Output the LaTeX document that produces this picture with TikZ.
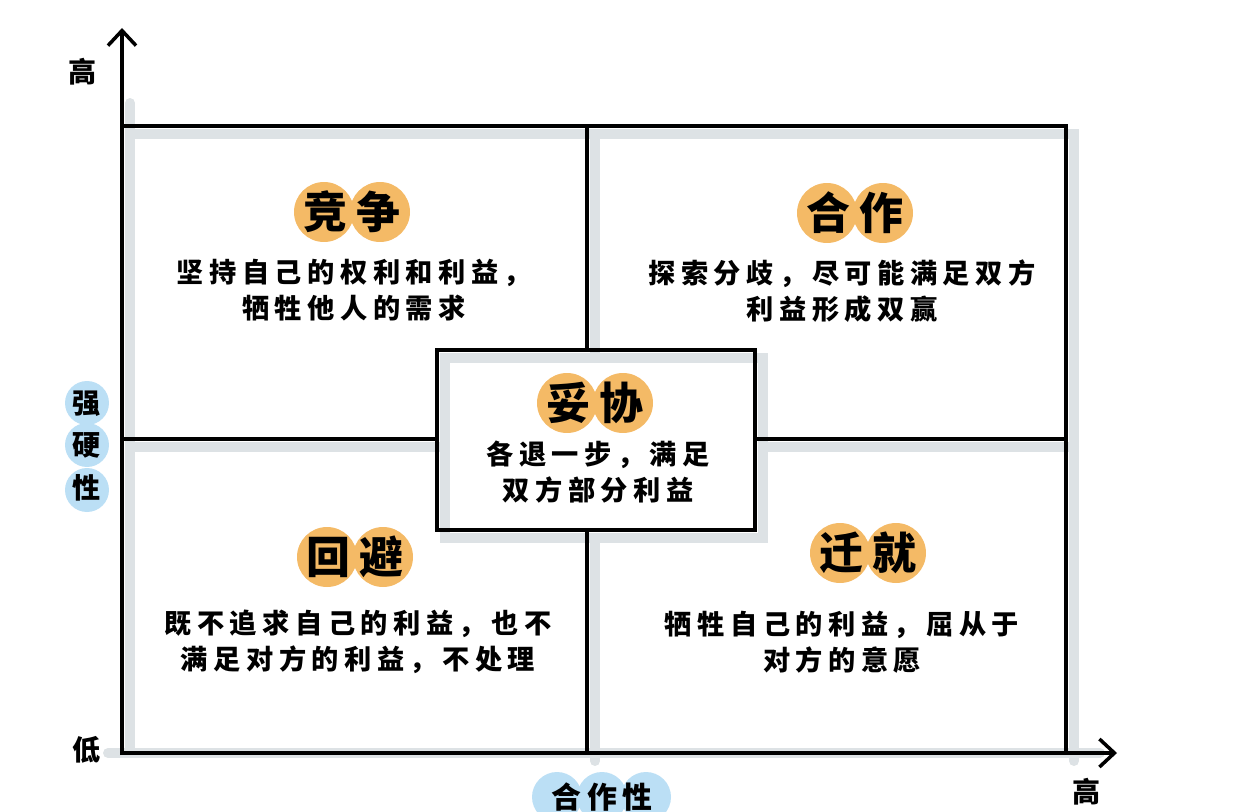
\documentclass[tikz,border=0pt]{standalone}
\usepackage{fontspec}
\setmainfont{Noto Sans CJK SC}
\newfontfamily\hanfont[LetterSpace=20]{Noto Sans CJK SC}
\usepackage{tikz}
\usetikzlibrary{arrows.meta, positioning}

\definecolor{shadowgray}{HTML}{DDE2E5}
\definecolor{bloborange}{HTML}{F4BA66}
\definecolor{blobblue}{HTML}{BBDFF5}

\tikzset{
  axisline/.style={line width=2pt, -{Straight Barb[length=3mm, width=5.6mm, line width=2pt]}},
  gridline/.style={line width=2pt, black},
  shadowline/.style={line width=0.2cm, shadowgray, line cap=round},
  quadtitle/.style={font=\hanfont\bfseries\fontsize{25}{28}\selectfont, inner sep=0pt},
  quadtext/.style={font=\hanfont\bfseries\fontsize{15.5}{20.5}\selectfont, align=center, inner sep=0pt},
  axislabel/.style={font=\hanfont\bfseries\fontsize{16}{18}\selectfont, inner sep=0pt},
  orangeblob/.style={fill=bloborange},
  blueblob/.style={fill=blobblue}
}

% Rahmen der vier Felder
\newcommand{\quadgrid}[1]{
    \draw[#1] (122,126) -- (1066,126) -- (1066,753);
    \draw[#1] (587,126) -- (587,350);
    \draw[#1] (587,530) -- (587,753);
    \draw[#1] (122,439) -- (437,439);
    \draw[#1] (755,439) -- (1066,439);
    \draw[#1] (437,350) rectangle (755,530);
}

\begin{document}
\begin{tikzpicture}[x=0.02cm, y=-0.02cm]

    \useasboundingbox (0,0) rectangle (1257,811);

    % Schatten
    \begin{scope}[shift={(8,8)}]
        \quadgrid{shadowline}
        \draw[shadowline] (122,95) -- (122,745);
        \draw[shadowline] (100,745) -- (1092,745);
    \end{scope}

    % Achsen
    \draw[axisline] (122,755) -- (122,28);
    \draw[axisline] (120,753) -- (1117,753);

    % Linien
    \quadgrid{gridline}

    % Blaue Flecken der Achsenbeschriftung
    \foreach \y in {403, 445, 490} {
        \fill[blueblob] (87,\y) circle[radius=0.44cm];
    }
    \foreach \x in {557, 602, 646} {
        \fill[blueblob] (\x,797) circle[radius=0.5cm];
    }

    \node[axislabel] (hochY) at (83,72) {高};
    \node[axislabel] (niedrig) at (87,750) {低};
    \node[axislabel] (hochX) at (1087,792) {高};
    \node[axislabel, align=center, font=\hanfont\bfseries\fontsize{16}{24}\selectfont] (haerte) at (87,446) {强\\硬\\性};
    \node[axislabel, font=\hanfont\bfseries\fontsize{17}{18}\selectfont] (kooperation) at (602,797) {合作性};

    % Titel mit orangefarbenem Fleck
    \foreach \nm/\x/\y/\txt in {
        jingzheng/352/212/竞争, hezuo/855/213/合作, tuoxie/595/403/妥协,
        huibi/355/557/回避, qianjiu/868/553/迁就
    } {
        \fill[orangeblob] (\x-28,\y) circle[radius=0.6cm] (\x+28,\y) circle[radius=0.6cm];
        \node[quadtitle] (\nm) at (\x,\y) {\txt};
    }

    % Beschreibungen
    \node[quadtext] (jingzhengText) at (354,290) {坚持自己的权利和利益，\\牺牲他人的需求};
    \node[quadtext] (hezuoText) at (842,291) {探索分歧，尽可能满足双方\\利益形成双赢};
    \node[quadtext] (tuoxieText) at (598,472) {各退一步，满足\\双方部分利益};
    \node[quadtext] (huibiText) at (358,642) {既不追求自己的利益，也不\\满足对方的利益，不处理};
    \node[quadtext] (qianjiuText) at (842,642) {牺牲自己的利益，屈从于\\对方的意愿};

\end{tikzpicture}
\end{document}
